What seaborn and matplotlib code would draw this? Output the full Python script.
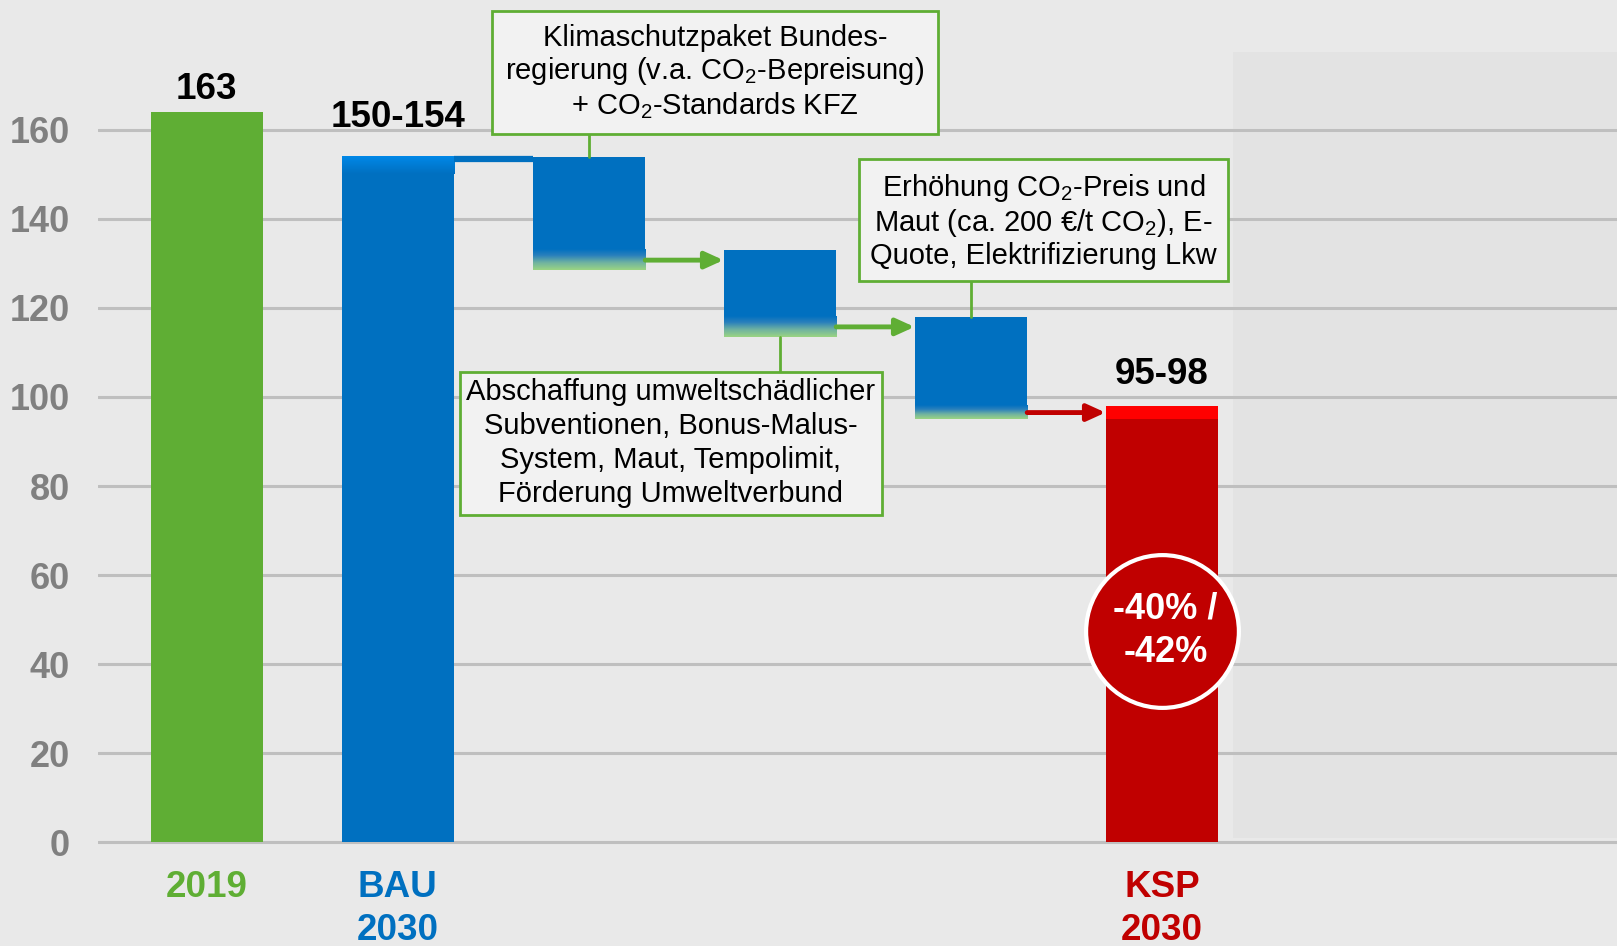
import numpy as np
import pandas as pd
import matplotlib
matplotlib.use("Agg")
import matplotlib.pyplot as plt
import seaborn as sns
from matplotlib.colors import LinearSegmentedColormap
from matplotlib.patches import Rectangle, FancyArrowPatch

# --- data (transport emissions, Mt CO2) ---
cat_labels = ["2019", "BAU\n2030", "", "", "", "KSP\n2030"]
value_labels = ["163", "150-154", "", "", "", "95-98"]
emissions_2019 = 164
bau_range = (150, 154)
after_package_range = (128.5, 133)    # Klimaschutzpaket + CO2-Standards
after_subsidies_range = (113.5, 118)  # Abschaffung Subventionen etc.
ksp_range = (95, 98)
reduction_text = "-40% /\n-42%"
box_texts = [
    "Klimaschutzpaket Bundes-\nregierung (v.a. CO$_2$-Bepreisung)\n+ CO$_2$-Standards KFZ",
    "Abschaffung umweltschädlicher\nSubventionen, Bonus-Malus-\nSystem, Maut, Tempolimit,\nFörderung Umweltverbund",
    "Erhöhung CO$_2$-Preis und\nMaut (ca. 200 €/t CO$_2$), E-\nQuote, Elektrifizierung Lkw",
]
yticks = list(range(0, 161, 20))

# colours
green = "#5FAE34"
blue = "#0070C0"
light_blue = "#0088E8"
dark_red = "#C00000"
bright_red = "#FF0000"
bg = "#E9E9E9"

sns.set_theme(style="whitegrid")
plt.rcParams["font.family"] = ["Liberation Sans", "DejaVu Sans"]
plt.rcParams["mathtext.fontset"] = "custom"
plt.rcParams["mathtext.rm"] = "Liberation Sans"
plt.rcParams["mathtext.it"] = "Liberation Sans:italic"
plt.rcParams["mathtext.bf"] = "Liberation Sans:bold"

fig = plt.figure(figsize=(16.17, 9.46), dpi=100, facecolor=bg)
ax = fig.add_axes([98 / 1617, 90.6 / 946, 1 - 98 / 1617, 855.4 / 946])
ax.set_facecolor(bg)

pos = np.arange(len(cat_labels))
w = 0.59

# main bars
df = pd.DataFrame({
    "pos": [pos[0], pos[1], pos[5]],
    "value": [emissions_2019, bau_range[0], ksp_range[0]],
    "name": ["2019", "BAU", "KSP"],
})
sns.barplot(data=df, x="pos", y="value", hue="name",
            palette={"2019": green, "BAU": blue, "KSP": dark_red},
            native_scale=True, width=w, dodge=False, legend=False,
            saturation=1, linewidth=0, ax=ax, zorder=2)

# range bands
band = np.linspace(0, 1, 256).reshape(-1, 1)
bau_cmap = LinearSegmentedColormap.from_list("bau", [light_blue, blue])
step_cmap = LinearSegmentedColormap.from_list(
    "step", [(0, blue), (0.3, "#2A80BC"), (0.65, "#70B3A0"), (1, "#9BD582")])
ax.imshow(band, cmap=bau_cmap, aspect="auto", zorder=2,
          extent=[pos[1] - w / 2, pos[1] + w / 2, bau_range[0], bau_range[1]])
ax.bar(pos[5], ksp_range[1] - ksp_range[0], bottom=ksp_range[0], width=w,
       color=bright_red, linewidth=0, zorder=2)

levels = [bau_range, after_package_range, after_subsidies_range, ksp_range]
for i in range(3):
    prev, cur = levels[i], levels[i + 1]
    x = pos[i + 2]
    ax.bar(x, prev[1] - cur[1], bottom=cur[1], width=w, color=blue,
           linewidth=0, zorder=2)
    ax.imshow(band, cmap=step_cmap, aspect="auto", zorder=2,
              extent=[x - w / 2, x + w / 2, cur[0], cur[1]])
    # arrow to next bar
    y = (cur[0] + cur[1]) / 2
    col = green if i < 2 else dark_red
    ax.add_patch(FancyArrowPatch((x + w / 2, y), (pos[i + 3] - w / 2, y),
                                 arrowstyle="-|>,head_length=11,head_width=5",
                                 mutation_scale=1, lw=3.5, color=col,
                                 shrinkA=0, shrinkB=0, zorder=3))

# BAU -> first step connector
ax.plot([pos[1] + w / 2, pos[2] - w / 2], [bau_range[1] - 0.5] * 2,
        color=blue, lw=4.5, solid_capstyle="butt", zorder=2)

# value labels
label_offsets = [3, 6.7, 0, 0, 0, 5]
tops = [emissions_2019, bau_range[1], 0, 0, 0, ksp_range[1]]
for p, lab, top, off in zip(pos, value_labels, tops, label_offsets):
    if lab:
        ax.text(p, top + off, lab, ha="center", va="baseline",
                fontsize=26.5, fontweight="bold", color="black", zorder=6)

# annotation boxes with connector lines to the step bars
box_xy = [(2.66, 173), (2.43, 89.6), (4.38, 139.6)]
box_pad = [0.45, 0.22, 0.38]
box_spacing = [1.13, 1.27, 1.13]
box_anchor = [levels[0][1], levels[2][0], levels[2][1]]
for i, (txt, (bx, by)) in enumerate(zip(box_texts, box_xy)):
    ax.plot([pos[i + 2], pos[i + 2]], [by, box_anchor[i]], color=green,
            lw=2, zorder=3, clip_on=False)
    ax.text(bx, by, txt, ha="center", va="center", fontsize=21,
            linespacing=box_spacing[i], color="black", zorder=6, clip_on=False,
            bbox=dict(boxstyle=f"square,pad={box_pad[i]}", fc="#F2F2F2",
                      ec=green, lw=2))

# reduction circle
circ_y = 47.5
ax.scatter([pos[5]], [circ_y], s=110 ** 2, color=dark_red, edgecolor="white",
           linewidth=3, zorder=5)
ax.text(pos[5] + 0.02, circ_y, reduction_text, ha="center", va="center",
        fontsize=26, fontweight="bold", color="white", linespacing=1.3,
        zorder=6)

# faint panel on the right
ax.add_patch(Rectangle((5.37, 1), 3, 176.5, facecolor="#E3E3E3",
                       edgecolor="none", zorder=0.2))

# axes styling
ax.set_xlim(-0.57, 7.383)
ax.set_ylim(-3, 189.2)
ax.set_axisbelow(True)
ax.xaxis.grid(False)
ax.yaxis.grid(True, color="#BFBFBF", lw=2.2, zorder=0.5)
for s in ax.spines.values():
    s.set_visible(False)
ax.set_yticks(yticks)
ax.set_yticklabels([str(t) for t in yticks], fontsize=26, fontweight="bold",
                   color="#808080")
ax.tick_params(axis="y", length=0, pad=20)

tick_pos = [p for p, l in zip(pos, cat_labels) if l]
tick_lab = [l for l in cat_labels if l]
ax.set_xticks(tick_pos)
ax.set_xticklabels(tick_lab, fontsize=26.5, fontweight="bold")
ax.tick_params(axis="x", length=0, pad=10.5)
for t, c in zip(ax.get_xticklabels(), [green, blue, dark_red]):
    t.set_color(c)
    t.set_linespacing(1.3)
ax.set_xlabel("")
ax.set_ylabel("")

fig.savefig("out.png", dpi=100, facecolor=bg)
